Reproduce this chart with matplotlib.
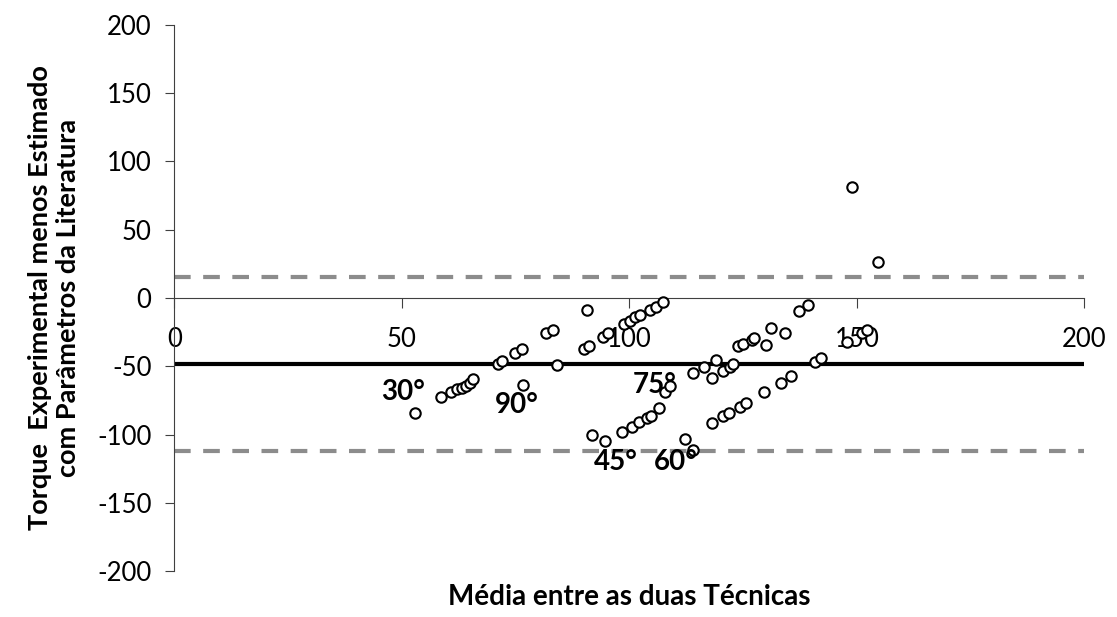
import numpy as np
import matplotlib
matplotlib.use("Agg")
import matplotlib.pyplot as plt

plt.rcParams['font.family'] = ['Lato', 'DejaVu Sans']
plt.rcParams['axes.unicode_minus'] = False

# media entre as duas tecnicas (x) e diferenca (y)
media = [52.9, 58.6, 60.7, 62.0, 63.1, 64.1, 65.0, 65.7,
         71.2, 71.9, 74.8, 76.3, 76.7, 81.7, 83.3, 84.0, 89.9, 91.2, 90.7,
         94.2, 95.3, 98.9, 100.1, 101.2, 102.3, 104.5, 105.8, 107.3,
         91.7, 94.6, 98.3, 100.5, 102.2, 103.8, 104.7, 106.5,
         107.8, 108.9, 114.0, 116.4, 119.0, 118.1, 120.5, 122.1, 122.7,
         123.9, 125.0, 126.9, 127.4, 130.1, 131.2, 134.2, 137.3, 139.2,
         140.8, 142.0, 147.8, 151.1, 152.3, 149.0, 154.7,
         112.2, 114.0, 118.1, 120.5, 121.9, 124.2, 125.6, 129.6, 133.4, 135.6]
diferenca = [-84.0, -72.3, -68.8, -66.8, -65.7, -64.4, -62.0, -59.5,
             -48.5, -45.9, -40.5, -37.6, -63.7, -25.8, -23.4, -49.0, -37.6, -34.9, -8.8,
             -28.3, -25.6, -19.0, -16.6, -14.1, -12.4, -8.8, -6.4, -2.9,
             -100.3, -104.9, -97.9, -94.2, -91.1, -88.1, -86.4, -80.7,
             -68.6, -64.6, -55.1, -50.3, -45.4, -58.8, -53.4, -50.5, -48.3,
             -35.1, -33.7, -30.7, -29.5, -34.4, -21.6, -25.3, -9.5, -4.8,
             -46.6, -44.1, -32.0, -25.6, -23.6, 81.6, 26.5,
             -102.9, -111.6, -91.7, -86.4, -84.4, -79.8, -76.9, -68.6, -62.2, -57.3]

vies = -48.5
lim_sup = 15.3
lim_inf = -112.3

angulos = ['30°', '90°', '75°', '45°', '60°']
ang_x = [50.2, 75.3, 105.5, 97.0, 110.2]
ang_y = [-68.6, -78.3, -63.7, -120.0, -120.0]

fig = plt.figure(figsize=(11.17, 6.17), dpi=100)
ax = fig.add_axes([0.1562, 0.0742, 0.8147, 0.8856])

ax.plot([0, 200], [vies, vies], color='black', lw=3, zorder=2)
ax.plot([0, 200], [lim_sup, lim_sup], color='#8c8c8c', lw=3, ls=(0, (4, 3)), zorder=2)
ax.plot([0, 200], [lim_inf, lim_inf], color='#8c8c8c', lw=3, ls=(0, (4, 3)), zorder=2)

ax.plot(media, diferenca, 'o', ms=7.5, mfc='white', mec='black', mew=1.5, ls='none', zorder=4)

for a, x, y in zip(angulos, ang_x, ang_y):
    ax.text(x, y, a, ha='center', va='center', fontsize=20, fontweight='bold', zorder=5)

ax.set_xlim(0, 200)
ax.set_ylim(-200, 200)
ax.set_xticks([0, 50, 100, 150, 200])
ax.set_yticks(np.arange(-200, 201, 50))

ax.spines['bottom'].set_position(('data', 0))
ax.spines['top'].set_visible(False)
ax.spines['right'].set_visible(False)
ax.spines['left'].set_color('#404040')
ax.spines['bottom'].set_color('#404040')
ax.tick_params(axis='x', direction='out', length=7, pad=14, labelsize=18.5, color='#404040')
ax.tick_params(axis='y', direction='out', length=6.5, pad=10, labelsize=18.5, color='#404040')

ax.set_ylabel('Torque  Experimental menos Estimado\ncom Parâmetros da Literatura',
              fontsize=19.5, fontweight='bold', labelpad=12, linespacing=1.2)
fig.text(0.5635, 0.012, 'Média entre as duas Técnicas', ha='center', va='bottom',
         fontsize=20, fontweight='bold')

fig.savefig('out.png', dpi=100)
